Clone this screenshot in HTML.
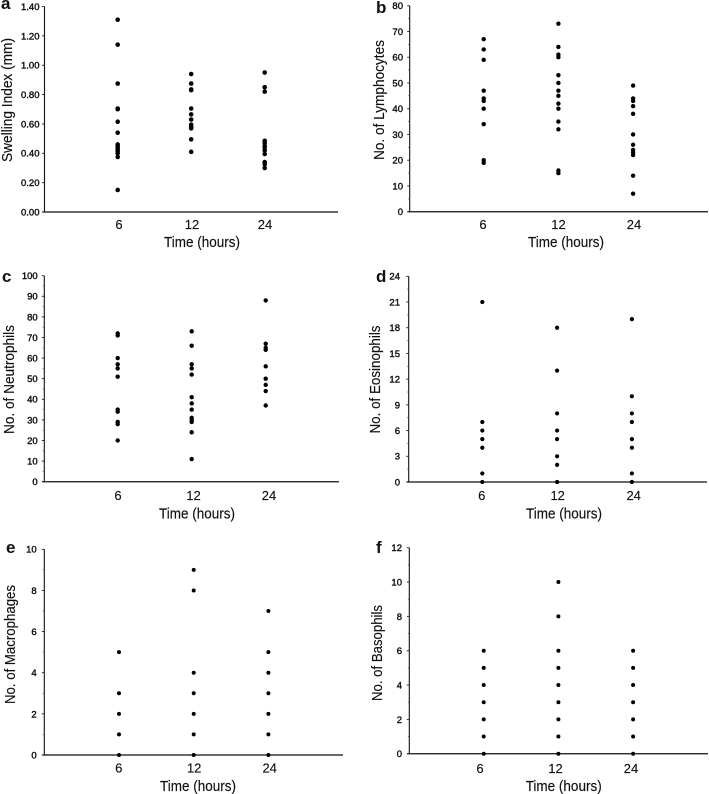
<!DOCTYPE html>
<html lang="en">
<head>
<meta charset="utf-8">
<title>Cell counts and swelling index over time</title>
<style>
html,body{margin:0;padding:0;background:#fff;width:709px;height:794px;overflow:hidden}
svg{display:block;filter:blur(0.3px)}
text{font-family:"Liberation Sans",sans-serif;fill:#111}
</style>
</head>
<body>
<svg id="figure" xmlns="http://www.w3.org/2000/svg" width="709" height="794" viewBox="0 0 709 794"></svg>
<script>
const timeCategories = ['6', '12', '24'];

const swelling6 = [1.31, 1.14, 0.875, 0.705, 0.70, 0.615, 0.54, 0.46, 0.445, 0.43, 0.415, 0.40, 0.375, 0.15];
const swelling12 = [0.94, 0.875, 0.835, 0.83, 0.705, 0.665, 0.63, 0.595, 0.58, 0.57, 0.495, 0.41];
const swelling24 = [0.95, 0.85, 0.82, 0.485, 0.47, 0.45, 0.44, 0.42, 0.395, 0.34, 0.325, 0.30];
const swellingTicks = ['0.00', '0.20', '0.40', '0.60', '0.80', '1.00', '1.20', '1.40'];

const lymphocytes6 = [67, 63, 59, 47, 44, 43, 40, 34, 20, 19];
const lymphocytes12 = [73, 64, 61, 60, 53, 50, 47, 45, 42, 40, 35, 32, 16, 15];
const lymphocytes24 = [49, 44, 43, 41, 38, 30, 26, 24, 23, 22, 14, 7];
const lymphocyteTicks = ['0', '10', '20', '30', '40', '50', '60', '70', '80'];

const neutrophils6 = [72, 71, 60, 57, 55, 51, 35, 34, 29, 28, 20];
const neutrophils12 = [73, 66, 57, 55, 52, 41, 38, 35, 31, 30, 29, 24, 11];
const neutrophils24 = [88, 67, 65, 64, 56, 50, 47, 44, 37];
const neutrophilTicks = ['0', '10', '20', '30', '40', '50', '60', '70', '80', '90', '100'];

const eosinophils6 = [21, 7, 6, 5, 4, 1, 0];
const eosinophils12 = [18, 13, 8, 6, 5, 3, 2, 0];
const eosinophils24 = [19, 10, 8, 7, 5, 4, 1, 0];
const eosinophilTicks = ['0', '3', '6', '9', '12', '15', '18', '21', '24'];

const macrophages6 = [5, 3, 2, 1, 0];
const macrophages12 = [9, 8, 4, 3, 2, 1, 0];
const macrophages24 = [7, 5, 4, 3, 2, 1, 0];
const macrophageTicks = ['0', '2', '4', '6', '8', '10'];

const basophils6 = [6, 5, 4, 3, 2, 1, 0];
const basophils12 = [10, 8, 6, 5, 4, 3, 2, 1, 0];
const basophils24 = [6, 5, 4, 3, 2, 1, 0];
const basophilTicks = ['0', '2', '4', '6', '8', '10', '12'];

const panels = [
  {id:'a', title:'Swelling Index (mm)', ticks:swellingTicks, series:[swelling6, swelling12, swelling24], minor:0,
   left:44.5, right:338, top:6.5, bottom:212, cat:117.7, step:73.5, tickRight:39.5, r:2.3,
   letterX:1, letterY:9, titleX:12, titleY:100, titleLen:124, catLabelX:1.3, catLabelStep:73, catY:229, xTitleX:202, xTitleY:247},
  {id:'b', title:'No. of Lymphocytes', ticks:lymphocyteTicks, series:[lymphocytes6, lymphocytes12, lymphocytes24], minor:1,
   left:409.7, right:708, top:5.7, bottom:211.7, cat:483.7, step:74.7, tickRight:403, r:2.2,
   letterX:376, letterY:13, titleX:384, titleY:100, titleLen:120, catLabelX:-0.7, catLabelStep:75.5, catY:229, xTitleX:566, xTitleY:247},
  {id:'c', title:'No. of Neutrophils', ticks:neutrophilTicks, series:[neutrophils6, neutrophils12, neutrophils24], minor:1,
   left:44.3, right:339, top:275.7, bottom:481.7, cat:117.7, step:74, tickRight:37.7, r:2.2,
   letterX:2, letterY:282, titleX:14, titleY:379.5, titleLen:109, catLabelX:0.3, catLabelStep:75.5, catY:500, xTitleX:197, xTitleY:518.7},
  {id:'d', title:'No. of Eosinophils', ticks:eosinophilTicks, series:[eosinophils6, eosinophils12, eosinophils24], minor:1,
   left:408.7, right:707, top:276.3, bottom:482, cat:482.3, step:74.8, tickRight:400, r:2.1,
   letterX:376, letterY:282, titleX:380, titleY:379.5, titleLen:108, catLabelX:-0.6, catLabelStep:76, catY:500, xTitleX:564, xTitleY:518.7},
  {id:'e', title:'No. of Macrophages', ticks:macrophageTicks, series:[macrophages6, macrophages12, macrophages24], minor:1,
   left:44.3, right:343, top:549.3, bottom:755, cat:119, step:74.7, tickRight:36.7, r:2,
   letterX:6, letterY:553, titleX:15, titleY:644.5, titleLen:119, catLabelX:-0.3, catLabelStep:75.5, catY:772.7, xTitleX:198, xTitleY:791},
  {id:'f', title:'No. of Basophils', ticks:basophilTicks, series:[basophils6, basophils12, basophils24], minor:1,
   left:409.3, right:708, top:547.7, bottom:753.7, cat:483.7, step:74.7, tickRight:402, r:2,
   letterX:376, letterY:553, titleX:382, titleY:653, titleLen:96, catLabelX:-3.7, catLabelStep:75.5, catY:773, xTitleX:563.7, xTitleY:791}
];

const NS = 'http://www.w3.org/2000/svg';
const svg = document.getElementById('figure');

function make(parent, tag, attrs, content) {
  const el = document.createElementNS(NS, tag);
  for (const k in attrs) el.setAttribute(k, attrs[k]);
  if (content !== undefined) el.textContent = content;
  parent.appendChild(el);
  return el;
}

panels.forEach(function (p) {
  const g = make(svg, 'g', {});
  
  

  const yMin = parseFloat(p.ticks[0]);
  const yMax = parseFloat(p.ticks[p.ticks.length - 1]);
  const yScale = function (v) { return p.bottom - (v - yMin) / (yMax - yMin) * (p.bottom - p.top); };
  const xScale = function (i) { return p.cat + i * p.step; };

  const letter = make(g, 'text', {x:p.letterX, y:p.letterY, 'font-size':17, 'font-weight':'bold'}, p.id);
  
  

  const yAxis = make(g, 'line', {x1:p.left, x2:p.left, y1:p.top, y2:p.bottom, stroke:'#111', 'stroke-width':1.1});
  
  

  const xAxis = make(g, 'line', {x1:p.left - 2, x2:p.right, y1:p.bottom, y2:p.bottom, stroke:'#111', 'stroke-width':1.25});
  
  

  p.ticks.forEach(function (label, i) {
    const v = parseFloat(label);
    const y = yScale(v);
    const tick = make(g, 'line', {x1:p.left - 2.5, x2:p.left, y1:y, y2:y, stroke:'#222', 'stroke-width':0.9});
    
    

    const text = make(g, 'text', {x:p.tickRight, y:y + 3.4, 'font-size':9.5, 'text-anchor':'end', stroke:'#111', 'stroke-width':0.4}, label);
    
    

    if (p.minor && i < p.ticks.length - 1) {
      const midY = yScale((v + parseFloat(p.ticks[i + 1])) / 2);
      const minorTick = make(g, 'line', {x1:p.left - 1.5, x2:p.left, y1:midY, y2:midY, stroke:'#444', 'stroke-width':0.7});
      
      
    }
  });

  const yTitle = make(g, 'text', {
    x:p.titleX, y:p.titleY, 'font-size':14.5, 'text-anchor':'middle',
    textLength:p.titleLen, lengthAdjust:'spacingAndGlyphs', stroke:'#111', 'stroke-width':0.15,
    transform:'rotate(-90 ' + p.titleX + ' ' + p.titleY + ')'
  }, p.title);
  
  

  timeCategories.forEach(function (cat, i) {
    const label = make(g, 'text', {x:p.cat + p.catLabelX + i * p.catLabelStep, y:p.catY, 'font-size':13, 'text-anchor':'middle', stroke:'#111', 'stroke-width':0.15}, cat);
    
    

    p.series[i].forEach(function (value) {
      const dot = make(g, 'circle', {cx:xScale(i), cy:yScale(value), r:p.r, fill:'#000'});
      
      
    });
  });

  const xTitle = make(g, 'text', {
    x:p.xTitleX, y:p.xTitleY, 'font-size':14.5, 'text-anchor':'middle',
    textLength:76, lengthAdjust:'spacingAndGlyphs', stroke:'#111', 'stroke-width':0.15
  }, 'Time (hours)');
  
  
});
</script>
</body>
</html>
